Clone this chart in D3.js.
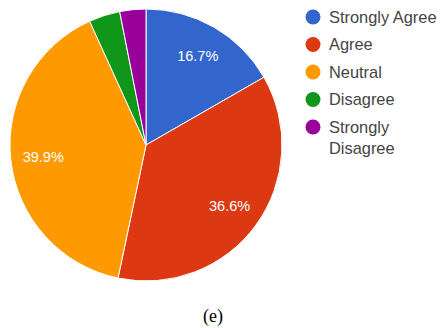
<!DOCTYPE html>
<html>
<head>
<meta charset="utf-8">
<script src="https://cdn.jsdelivr.net/npm/d3@7"></script>
<style>
  html, body { margin: 0; padding: 0; background: #fff; }
  svg { display: block; }
</style>
</head>
<body>
<svg id="chart" width="440" height="328"></svg>
<script>
/* ---------- data ---------- */
const categories = ['Strongly Agree', 'Agree', 'Neutral', 'Disagree', 'Strongly Disagree'];
const values     = [16.7, 36.6, 39.9, 3.7, 3.1];
const colors     = ['#3366cc', '#dc3912', '#ff9900', '#109618', '#990099'];

/* ---------- layout ---------- */
const W = 440, H = 328;
const cx = 146, cy = 145, R = 136;

const svg = d3.select('#chart');

const pie = d3.pie().sort(null).value(d => d.value);
const arcs = pie(categories.map((c, i) => ({ name: c, value: values[i], color: colors[i] })));

const arc = d3.arc().innerRadius(0).outerRadius(R);
const labelArc = d3.arc().innerRadius(R * 0.76).outerRadius(R * 0.76);

const g = svg.append('g').attr('transform', `translate(${cx},${cy})`);

g.selectAll('path.slice')
  .data(arcs)
  .join('path')
  .attr('class', 'slice')
  .attr('d', arc)
  .attr('fill', d => d.data.color)
  .attr('stroke', '#fff')
  .attr('stroke-width', 1);

// percent labels only on the big slices
g.selectAll('text.pct')
  .data(arcs.filter(d => d.data.value > 5))
  .join('text')
  .attr('class', 'pct')
  .attr('transform', d => `translate(${labelArc.centroid(d)})`)
  .attr('text-anchor', 'middle')
  .attr('dy', '0.36em')
  .attr('fill', '#fff')
  .attr('font-family', 'Arial, "Liberation Sans", sans-serif')
  .attr('font-size', 14.5)
  .text(d => d.data.value.toFixed(1) + '%');

/* ---------- legend ---------- */
const legY = d3.scalePoint().domain(categories).range([17, 127]);

const leg = svg.append('g')
  .attr('font-family', 'Arial, "Liberation Sans", sans-serif')
  .attr('font-size', 16.4)
  .attr('fill', '#444');

categories.forEach((c, i) => {
  const y = legY(c);
  leg.append('circle')
    .attr('cx', 313)
    .attr('cy', y)
    .attr('r', 7.5)
    .attr('fill', colors[i]);
  const words = c === 'Strongly Disagree' ? ['Strongly', 'Disagree'] : [c];
  const t = leg.append('text').attr('x', 329).attr('y', y);
  words.forEach((w, k) => {
    t.append('tspan').attr('x', 329).attr('dy', k === 0 ? '0.36em' : 21).text(w);
  });
});

/* ---------- caption ---------- */
svg.append('text')
  .attr('x', 213)
  .attr('y', 322)
  .attr('text-anchor', 'middle')
  .attr('font-family', '"Liberation Serif", "Times New Roman", serif')
  .attr('font-size', 18)
  .attr('fill', '#000')
  .text('(e)');
</script>
</body>
</html>
